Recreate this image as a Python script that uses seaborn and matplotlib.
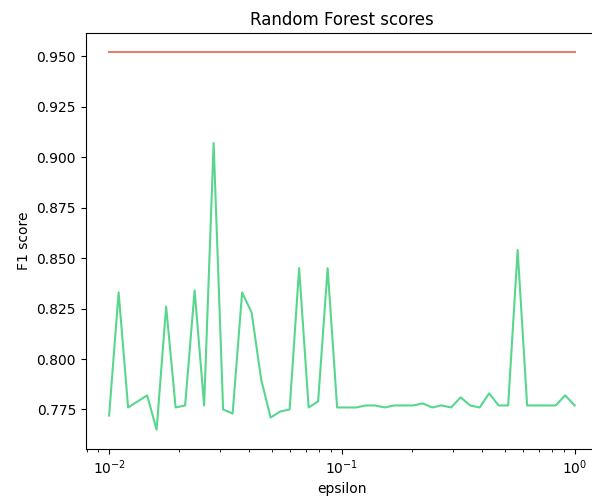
import numpy as np
import pandas as pd
import seaborn as sns
import matplotlib
matplotlib.use("Agg")
import matplotlib.pyplot as plt

# epsilon sweep (log spaced from 1e-2 to 1e0, 50 points)
epsilon = np.logspace(-2, 0, 50)

f1_private = [
    0.772, 0.833, 0.776, 0.779, 0.782, 0.765, 0.826, 0.776, 0.777, 0.834,
    0.777, 0.907, 0.775, 0.773, 0.833, 0.823, 0.790, 0.771, 0.774, 0.775,
    0.845, 0.776, 0.779, 0.845, 0.776, 0.776, 0.776, 0.777, 0.777, 0.776,
    0.777, 0.777, 0.777, 0.778, 0.776, 0.777, 0.776, 0.781, 0.777, 0.776,
    0.783, 0.777, 0.777, 0.854, 0.777, 0.777, 0.777, 0.777, 0.782, 0.777,
]
f1_baseline = [0.952] * len(epsilon)

df = pd.DataFrame({"epsilon": epsilon, "private": f1_private, "baseline": f1_baseline})

fig, ax = plt.subplots(figsize=(5.92, 5.04), dpi=100)
fig.subplots_adjust(left=0.145, right=1.01, top=0.934, bottom=0.11)

sns.lineplot(data=df, x="epsilon", y="baseline", color="#d9604c", alpha=0.8, ax=ax)
sns.lineplot(data=df, x="epsilon", y="private", color="#2ecc71", alpha=0.8, ax=ax)

ax.set_xscale("log")
ax.set_title("Random Forest scores")
ax.set_xlabel("epsilon")
ax.set_ylabel("F1 score")

fig.savefig("out.png", dpi=100)
